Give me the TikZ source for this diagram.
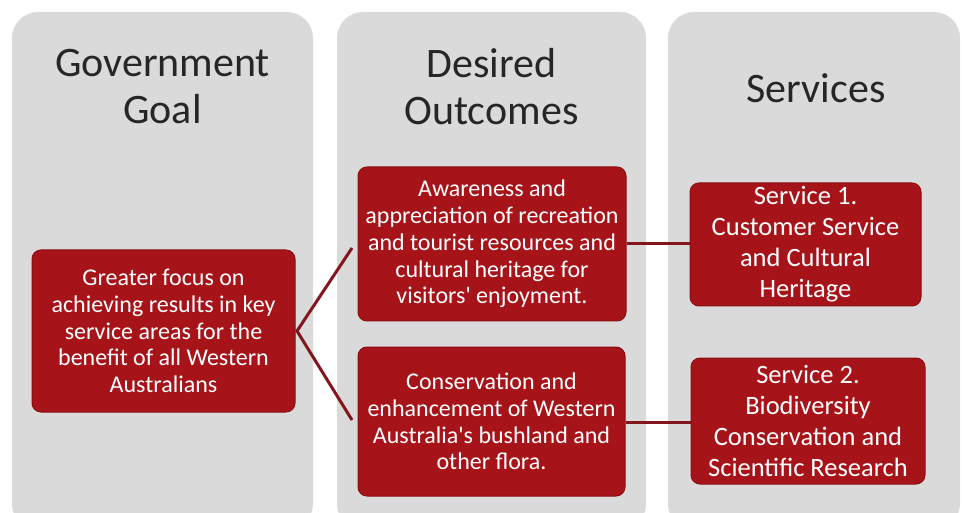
\documentclass[tikz,border=0pt]{standalone}
\usepackage{fontspec}
\setmainfont{Carlito}[Ligatures=TeXOff]
\begin{document}
\begin{tikzpicture}[x=1pt,y=-1pt,
  panel/.style={fill=panelgray, draw=none, rounded corners=26pt},
  title/.style={font=\fontsize{42}{47}\selectfont, text=black!85, align=center},
  redbox/.style={fill=boxred, draw=boxedge, line width=1pt, rounded corners=9pt,
     text=white, align=center, font=\fontsize{24}{26.8}\selectfont, inner sep=0pt},
  svcbox/.style={redbox, font=\fontsize{26.5}{31}\selectfont},
  conn/.style={draw=connred, line width=3pt}]
\definecolor{panelgray}{RGB}{218,218,218}
\definecolor{boxred}{RGB}{166,20,26}
\definecolor{boxedge}{RGB}{140,14,18}
\definecolor{connred}{RGB}{130,22,28}
\useasboundingbox (0,0) rectangle (962,513);
\fill[white] (0,0) rectangle (962,513);
% panels
\path[panel] (12,12) rectangle (313,530);
\path[panel] (337,12) rectangle (646,530);
\path[panel] (668,12) rectangle (960,530);
% titles
\node[title] (t1) at (162.5,87) {Government\\Goal};
\node[title] (t2) at (491.5,87) {Desired\\Outcomes};
\node[title] (t3) at (816,88) {Services};
% boxes
\node[redbox, minimum width=263pt, minimum height=162pt] (goal) at (163.5,331)
  {Greater focus on\\achieving results in key\\service areas for the\\benefit of all Western\\Australians};
\node[redbox, minimum width=268pt, minimum height=154pt] (out1) at (492,244)
  {Awareness and\\appreciation of recreation\\and tourist resources and\\cultural heritage for\\visitors' enjoyment.};
\node[redbox, minimum width=267pt, minimum height=149pt] (out2) at (491.5,421.5)
  {Conservation and\\enhancement of Western\\Australia's bushland and\\other flora.};
\node[svcbox, minimum width=231pt, minimum height=123pt] (s1) at (805.5,244.5)
  {Service 1.\\Customer Service\\and Cultural\\Heritage};
\node[svcbox, minimum width=234pt, minimum height=126pt] (s2) at (808,421)
  {Service 2.\\Biodiversity\\Conservation and\\Scientific Research};
% connectors
\coordinate (j) at (297,331);
\coordinate (e1) at (352,248);
\coordinate (e2) at (352,420);
\draw[conn] (e1) -- (j) -- (e2);
\draw[conn] (out1.east |- 0,244) -- (s1.west |- 0,244);
\draw[conn] (out2.east |- 0,422) -- (s2.west |- 0,422);
\end{tikzpicture}
\end{document}
